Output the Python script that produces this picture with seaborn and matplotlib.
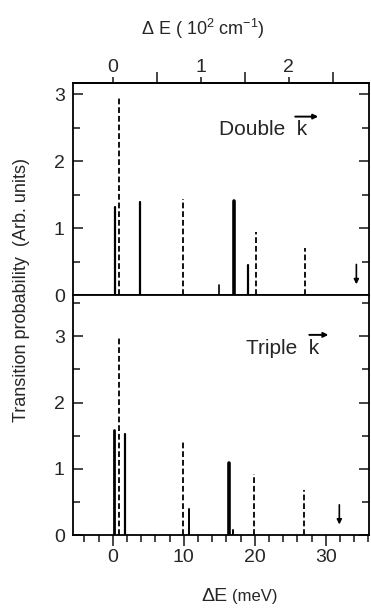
import numpy as np
import pandas as pd
import matplotlib
matplotlib.use("Agg")
import matplotlib.pyplot as plt
import seaborn as sns
from matplotlib import font_manager as fm
from matplotlib.ticker import MultipleLocator

# ---------------- data ----------------
# Double k panel
double_calc_E = [0.32, 3.85, 14.9, 17.1, 19.1]
double_calc_P = [1.32, 1.39, 0.15, 1.41, 0.45]
double_calc_w = [1.6, 1.6, 1.2, 2.6, 1.6]
double_obs_E = [0.93, 9.95, 20.2, 27.1]
double_obs_P = [2.94, 1.44, 0.94, 0.70]
double_arrow_E = 34.3

# Triple k panel
triple_calc_E = [0.18, 1.78, 10.7, 16.4, 16.9]
triple_calc_P = [1.58, 1.53, 0.40, 1.09, 0.08]
triple_calc_w = [2.0, 1.6, 1.4, 2.6, 1.4]
triple_obs_E = [0.93, 9.95, 19.95, 26.95]
triple_obs_P = [2.99, 1.44, 0.92, 0.68]
triple_arrow_E = 31.9

meV_ticks = [0, 10, 20, 30]
cm_ticks = [0, 1, 2]
y_ticks = [0, 1, 2, 3]
MEV_TO_CM100 = 0.080655

# ---------------- style ----------------
sns.set_theme(style="ticks")
names = {f.name for f in fm.fontManager.ttflist}
narrow = "Liberation Sans Narrow" if "Liberation Sans Narrow" in names else "Liberation Sans"
plt.rcParams["font.family"] = [narrow, "DejaVu Sans"]
plt.rcParams["mathtext.fontset"] = "custom"
plt.rcParams["mathtext.rm"] = narrow
plt.rcParams["mathtext.sf"] = "Liberation Sans"
plt.rcParams["axes.edgecolor"] = "black"
plt.rcParams["axes.linewidth"] = 1.3

fig = plt.figure(figsize=(3.71, 6.11), dpi=100)
ax1 = fig.add_axes([0.197, 0.517, 0.798, 0.347])
ax2 = fig.add_axes([0.197, 0.124, 0.798, 0.393])


def stems(ax, E, P, widths, dashed):
    rows = []
    for i, (e, p) in enumerate(zip(E, P)):
        rows.append({"E": e, "P": 0.0, "id": i, "w": widths[i]})
        rows.append({"E": e, "P": p, "id": i, "w": widths[i]})
    df = pd.DataFrame(rows)
    for w, sub in df.groupby("w"):
        kw = dict(linestyle=(0, (3.2, 1.6))) if dashed else dict(linestyle="-")
        sns.lineplot(data=sub, x="E", y="P", units="id", estimator=None,
                     sort=False, color="black", linewidth=w, ax=ax,
                     legend=False, **kw)


stems(ax1, double_calc_E, double_calc_P, double_calc_w, False)
stems(ax1, double_obs_E, double_obs_P, [1.3] * len(double_obs_E), True)
stems(ax2, triple_calc_E, triple_calc_P, triple_calc_w, False)
stems(ax2, triple_obs_E, triple_obs_P, [1.3] * len(triple_obs_E), True)

for ax, xa in ((ax1, double_arrow_E), (ax2, triple_arrow_E)):
    ax.annotate("", xy=(xa, 0.12), xytext=(xa, 0.5),
                arrowprops=dict(arrowstyle="-|>", color="black", lw=1.2,
                                mutation_scale=7))


def label_with_arrow(ax, x, y, word):
    t = ax.text(x, y, word + "  k", fontsize=15, family="Liberation Sans",
                va="center", ha="left")
    ax.annotate("", xy=(1.12, 1.2), xycoords=t, xytext=(0.86, 1.2),
                textcoords=t,
                arrowprops=dict(arrowstyle="-|>", color="black", lw=1.4,
                                mutation_scale=7, shrinkA=0, shrinkB=0))


label_with_arrow(ax1, 15.0, 2.47, "Double")
label_with_arrow(ax2, 18.8, 2.82, "Triple")

ax1.set_ylim(0, 3.17)
ax2.set_ylim(0, 3.62)
for ax in (ax1, ax2):
    ax.set_xlim(-5.6, 36.1)
    ax.set_xlabel("")
    ax.set_ylabel("")
    ax.set_yticks(y_ticks)
    ax.yaxis.set_minor_locator(MultipleLocator(0.5))
    ax.tick_params(axis="y", which="both", direction="in", left=True, right=True,
                   labelsize=14, pad=6, width=1.2)
    ax.tick_params(axis="y", which="major", length=7)
    ax.tick_params(axis="y", which="minor", length=5)
    for s in ax.spines.values():
        s.set_visible(True)
        s.set_linewidth(1.3)

ax1.tick_params(axis="x", which="both", bottom=False, labelbottom=False,
                top=False, labeltop=False)

ax2.set_xticks(meV_ticks)
ax2.xaxis.set_minor_locator(MultipleLocator(2))
ax2.tick_params(axis="x", which="both", direction="out", bottom=True, width=1.2,
                labelsize=14, pad=2)
ax2.tick_params(axis="x", which="major", length=8)
ax2.tick_params(axis="x", which="minor", length=5)

sec = ax1.secondary_xaxis("top", functions=(lambda x: x * MEV_TO_CM100,
                                            lambda x: x / MEV_TO_CM100))
sec.set_xticks(cm_ticks)
sec.xaxis.set_minor_locator(MultipleLocator(0.5))
sec.tick_params(axis="x", which="both", direction="out", width=1.2,
                labelsize=14, pad=1)
sec.tick_params(axis="x", which="major", length=4)
sec.tick_params(axis="x", which="minor", length=8)
sec.spines["top"].set_linewidth(1.3)

fig.text(0.547, 0.952, r"$\Delta$ E ( 10$^2$ cm$^{-1}$)", fontsize=13,
         ha="center", va="center")
fig.text(0.612, 0.023, "ΔE", fontsize=14, ha="right", va="center",
         family="Liberation Sans")
fig.text(0.625, 0.023, "(meV)", fontsize=12, ha="left", va="center")
fig.text(0.057, 0.525, "Transition probability  (Arb. units)", fontsize=13,
         rotation=90, ha="center", va="center")

fig.savefig("out.png", dpi=100)
